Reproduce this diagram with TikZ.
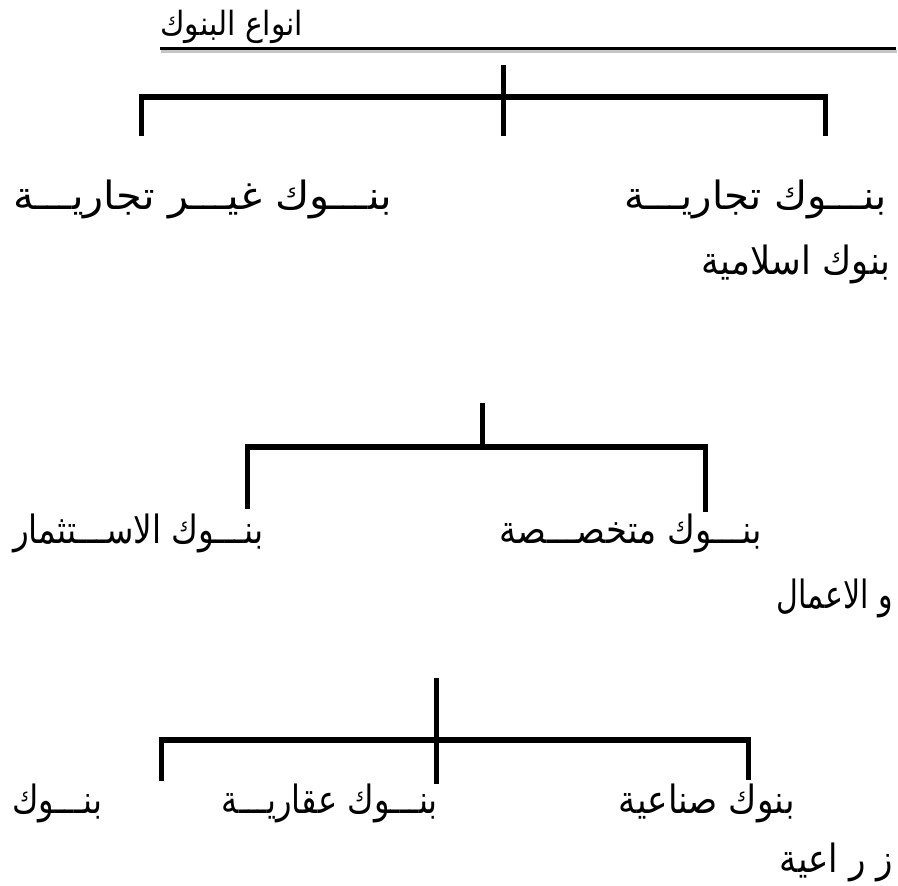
\documentclass[tikz,border=0pt]{standalone}
\usepackage{fontspec}
\usepackage{graphicx}
\newfontfamily\arabicfont[Script=Arabic]{DejaVu Sans}
\TeXXeTstate=1
\newcommand\artxt[2]{\resizebox{#1pt}{1.18\height}{\arabicfont\fontsize{33}{38}\selectfont #2}}
\begin{document}
\begin{tikzpicture}[x=1pt,y=-1pt,
  lbl/.style={inner sep=0pt},
  br/.style={line width=6pt},
  leg/.style={line width=5pt}]
\useasboundingbox (0,0) rectangle (898,886);
% title
\node[lbl,anchor=south west] (title) at (160,44) {\resizebox{143pt}{1.15\height}{\arabicfont\fontsize{29}{34}\selectfont\beginR انواع البنوك\endR}};
\coordinate (ulend) at (896,48);
\draw[gray!45,line width=3pt] ([shift={(1,3)}]title.south west |- ulend) -- ([shift={(1,3)}]ulend);
\draw[line width=3pt] (title.south west |- ulend) -- (ulend);
% bracket 1
\coordinate (c1t) at (503,65);
\coordinate (c1b) at (503,136);
\coordinate (l1t) at (141,97);
\coordinate (l1b) at (141,136);
\coordinate (r1t) at (825,97);
\coordinate (r1b) at (825,136);
\draw[br] ([xshift=-2.5pt]l1t) -- ([xshift=2.5pt]r1t);
\draw[leg] (c1t) -- (c1b);
\draw[leg] (l1t) -- (l1b);
\draw[leg] (r1t) -- (r1b);
\node[lbl,anchor=east] (tj) at (887,199) {\artxt{262}{\beginR بنـــوك تجاريـــة\endR}};
\node[lbl,anchor=west] (gtj) at (13,199) {\artxt{379}{\beginR بنـــوك غيـــر تجاريـــة\endR}};
\node[lbl,anchor=east] (isl) at (891,264) {\artxt{189}{\beginR بنوك اسلامية\endR}};
% bracket 2
\coordinate (c2t) at (482,403);
\coordinate (c2b) at (482,447);
\coordinate (l2t) at (247,447);
\coordinate (l2b) at (247,509);
\coordinate (r2t) at (705,447);
\coordinate (r2b) at (705,512);
\draw[br] ([xshift=-2.5pt]l2t) -- ([xshift=2.5pt]r2t);
\draw[leg] (c2t) -- (c2b);
\draw[leg] (l2t) -- (l2b);
\draw[leg] (r2t) -- (r2b);
\node[lbl,anchor=west] (ist) at (13,533) {\artxt{250}{\beginR بنـــوك الاســـتثمار\endR}};
\node[lbl,anchor=east] (mtk) at (762,533) {\artxt{262}{\beginR بنـــوك متخصـــصة\endR}};
\node[lbl,anchor=east] (aml) at (893,598) {\artxt{116}{\beginR و الاعمال\endR}};
% bracket 3
\coordinate (c3t) at (436,678);
\coordinate (c3b) at (436,784);
\coordinate (l3t) at (161,740);
\coordinate (l3b) at (161,781);
\coordinate (r3t) at (748,740);
\coordinate (r3b) at (748,780);
\draw[br] ([xshift=-2.5pt]l3t) -- ([xshift=2.5pt]r3t);
\draw[leg] (c3t) -- (c3b);
\draw[leg] (l3t) -- (l3b);
\draw[leg] (r3t) -- (r3b);
\node[lbl,anchor=west] (bnk) at (12,803) {\artxt{90}{\beginR بنـــوك\endR}};
\node[lbl,anchor=east] (aqr) at (438,803) {\artxt{216}{\beginR بنـــوك عقاريـــة\endR}};
\node[lbl,anchor=east] (snc) at (795,803) {\artxt{176}{\beginR بنوك صناعية\endR}};
\node[lbl,anchor=east] (zrc) at (893,862) {\artxt{113}{\beginR ز ر اعية\endR}};
\end{tikzpicture}
\end{document}
